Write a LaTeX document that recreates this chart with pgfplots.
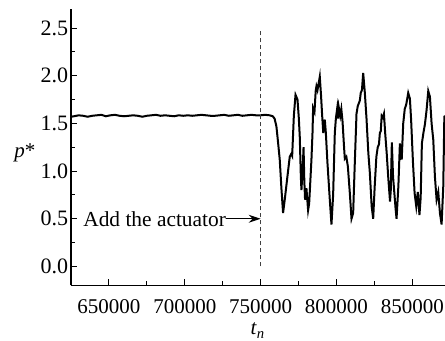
\documentclass[border=0pt]{standalone}
\usepackage{pgfplots}
\pgfplotsset{compat=1.18}
\usepackage{fontspec}
\setmainfont{Liberation Serif}
\usetikzlibrary{arrows.meta}
\pgfplotstableread{
t p
625000 1.57
627000 1.575
630000 1.585
633000 1.58
636000 1.57
639000 1.58
642000 1.585
645000 1.59
648000 1.575
651000 1.585
654000 1.59
657000 1.58
660000 1.575
663000 1.58
666000 1.585
669000 1.58
672000 1.57
675000 1.58
678000 1.585
681000 1.59
684000 1.58
687000 1.585
690000 1.58
693000 1.575
696000 1.585
699000 1.58
702000 1.585
705000 1.58
708000 1.585
711000 1.59
714000 1.585
717000 1.58
720000 1.58
723000 1.585
726000 1.59
729000 1.58
732000 1.585
735000 1.59
738000 1.58
741000 1.585
744000 1.59
747000 1.585
750000 1.585
753000 1.59
756000 1.585
758000 1.575
759200 1.55
760400 1.47
761500 1.30
762600 1.12
763700 0.82
764800 0.56
765900 0.70
767500 0.92
769200 1.15
770200 1.18
770800 1.16
771900 1.58
773000 1.80
774300 1.75
775200 1.55
775800 1.36
776500 0.95
776900 0.80
777800 1.05
778300 1.25
778800 0.90
779300 0.70
780200 0.82
781300 0.59
782000 0.66
783500 1.12
784200 1.40
784600 1.66
785500 1.62
786300 1.84
786800 1.89
787500 1.85
789000 1.99
789800 1.80
790500 1.60
791300 1.40
792300 1.54
793000 1.40
794000 1.10
795600 0.70
796700 0.44
797800 0.75
798900 1.40
799600 1.55
800500 1.66
801000 1.55
801500 1.67
802500 1.58
803200 1.65
804000 1.52
805000 1.25
805500 1.13
806500 1.15
807500 1.05
808800 0.77
809900 0.50
811000 0.56
812000 1.05
813200 1.60
814000 1.68
815400 1.74
816000 1.82
816800 1.85
817600 2.03
818700 1.82
819800 1.55
821000 1.19
822000 0.98
823200 0.63
824200 0.50
825200 0.84
826300 1.15
827200 1.25
828000 1.28
828600 1.40
829200 1.42
829800 1.58
830600 1.56
831300 1.60
832100 1.40
833100 1.19
834100 0.94
835300 0.68
835800 0.80
836500 1.30
837300 0.94
839000 0.60
839600 0.50
840800 0.84
841800 1.29
843000 1.12
844000 1.50
845000 1.65
846000 1.70
847300 1.82
848400 1.76
849200 1.54
850400 1.10
851500 0.77
852600 0.63
853600 0.78
854700 0.54
855500 0.72
856300 1.29
857300 1.40
858300 1.49
859400 1.64
860500 1.84
861600 1.78
862700 1.50
863800 1.33
864900 0.94
866000 0.70
867100 0.78
868200 0.56
869300 0.44
870400 0.84
871100 1.57
871540 1.58
}\datatable
\begin{document}
\fontsize{10.5}{12}\selectfont
\begin{tikzpicture}
\begin{axis}[
  scale only axis,
  width=187pt, height=138.25pt,
  xmin=625000, xmax=871540,
  ymin=-0.2, ymax=2.7,
  axis x line*=bottom, axis y line*=left,
  axis line style={-, line width=0.6pt},
  tick align=inside,
  xtick={650000,700000,750000,800000,850000},
  xticklabels={650000,700000,750000,800000,850000},
  minor x tick num=1,
  ytick={0,0.5,1,1.5,2,2.5},
  yticklabels={0.0,0.5,1.0,1.5,2.0,2.5},
  minor y tick num=1,
  major tick length=3.2pt, minor tick length=2pt,
  tick style={line width=0.5pt, black},
  scaled x ticks=false,
  xticklabel style={yshift=-3.2pt},
  yticklabel style={xshift=2.3pt, font=\fontsize{11}{12}\selectfont},
  clip=true,
]
\addplot[black, line width=1pt] table[x=t, y=p] {\datatable};
\addplot[black!75, line width=0.5pt, dash pattern=on 2pt off 1.5pt] coordinates {(750000,0) (750000,2.49)};
\coordinate (ll) at (rel axis cs:0,0);
\coordinate (ur) at (rel axis cs:1,1);
\coordinate (arrS) at (axis cs:727400,0.5);
\coordinate (arrE) at (axis cs:750000,0.5);
\end{axis}
\draw[black, line width=0.6pt, -{Stealth[length=6pt, width=4pt]}] (arrS) -- (arrE);
\node[anchor=east, inner sep=0pt, font=\fontsize{10.7}{12}\selectfont] at (arrS) {Add the actuator};
\node[anchor=base, inner sep=0pt] at ([xshift=93.5pt, yshift=-24.75pt]ll) {\textit{t}\textsubscript{\textit{n}}};
\node[anchor=base, inner sep=0pt] at ([xshift=-23pt, yshift=63.75pt]ll) {\textit{p}*};
\pgfresetboundingbox
\path[use as bounding box] ([xshift=-35.5pt, yshift=-27.75pt]ll) rectangle ([yshift=4.5pt]ur);
\end{tikzpicture}
\end{document}
